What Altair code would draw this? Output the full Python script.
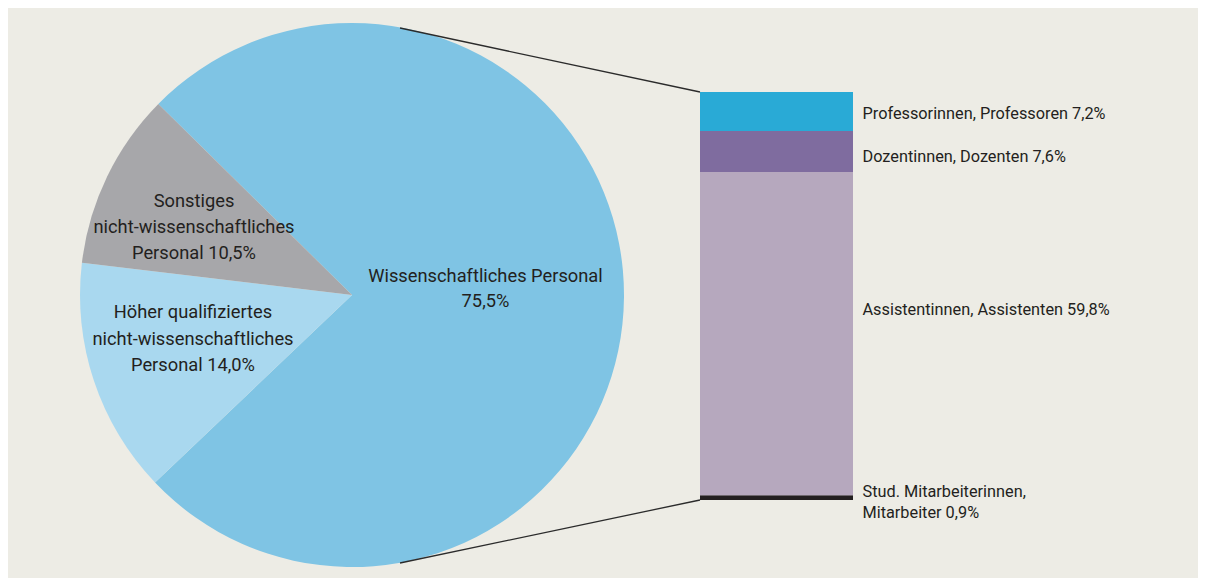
import altair as alt
import pandas as pd
import math

# --- data ---
pie_cats = ["Wissenschaftliches Personal",
            "Höher qualifiziertes nicht-wissenschaftliches Personal",
            "Sonstiges nicht-wissenschaftliches Personal"]
pie_vals = [75.5, 14.0, 10.5]
pie_labels = ["Wissenschaftliches Personal\n75,5%",
              "Höher qualifiziertes\nnicht-wissenschaftliches\nPersonal 14,0%",
              "Sonstiges\nnicht-wissenschaftliches\nPersonal 10,5%"]

bar_cats = ["Stud. Mitarbeiterinnen, Mitarbeiter",
            "Assistentinnen, Assistenten",
            "Dozentinnen, Dozenten",
            "Professorinnen, Professoren"]
bar_vals = [0.9, 59.8, 7.6, 7.2]
bar_labels = ["Stud. Mitarbeiterinnen,\nMitarbeiter 0,9%",
              "Assistentinnen, Assistenten 59,8%",
              "Dozentinnen, Dozenten 7,6%",
              "Professorinnen, Professoren 7,2%"]

colors = ["#7fc4e4", "#a9d8ef", "#a7a7aa", "#231f20", "#b6a8be", "#7f6c9f", "#29aad6"]

pie_df = pd.DataFrame({"cat": pie_cats, "value": pie_vals, "label": pie_labels,
                       "order": list(range(len(pie_cats)))})
bar_df = pd.DataFrame({"cat": bar_cats, "value": bar_vals, "label": bar_labels,
                       "order": list(range(len(bar_cats)))})

all_cats = pie_cats + bar_cats
color_scale = alt.Scale(domain=all_cats, range=colors)

FONT = "Roboto"
TXT = "#231f20"

start = -math.radians(45.4)
cx, cy, R = 344, 287, 272

pie = alt.Chart(pie_df).mark_arc(outerRadius=R, stroke=None).encode(
    theta=alt.Theta("value:Q", stack=True,
                    scale=alt.Scale(range=[start, start + 2 * math.pi])),
    color=alt.Color("cat:N", scale=color_scale, legend=None),
    order=alt.Order("order:Q"),
    x=alt.value(cx), y=alt.value(cy),
)

ytop, ybot = 84, 492
yscale = alt.Scale(domain=[0, sum(bar_vals)], range=[ybot, ytop])

bar = alt.Chart(bar_df).transform_stack(
    stack="value", groupby=[], as_=["y0", "y1"],
    sort=[alt.SortField("order", order="ascending")]
).mark_rect(stroke=None).encode(
    x=alt.value(692), x2=alt.value(845),
    y=alt.Y("y0:Q", scale=yscale, axis=None), y2="y1:Q",
    color=alt.Color("cat:N", scale=color_scale, legend=None),
)

rule_top = alt.Chart(pd.DataFrame({"v": [sum(bar_vals)]})).mark_rule(
    color="#2b2b2b", strokeWidth=1.3).encode(
    y=alt.Y("v:Q", scale=yscale, axis=None), x=alt.value(692),
    x2=alt.value(392), y2=alt.value(20))
rule_bot = alt.Chart(pd.DataFrame({"v": [0.0]})).mark_rule(
    color="#2b2b2b", strokeWidth=1.3).encode(
    y=alt.Y("v:Q", scale=yscale, axis=None), x=alt.value(692),
    x2=alt.value(392), y2=alt.value(555))


def ptext(df, cat, x, y, lh, align="center", size=18.3):
    return alt.Chart(df).transform_filter(alt.datum.cat == cat).mark_text(
        font=FONT, fontSize=size, color=TXT, align=align, baseline="alphabetic",
        lineBreak="\n", lineHeight=lh).encode(
        text="label:N", x=alt.value(x), y=alt.value(y))


labels = [
    ptext(pie_df, pie_cats[0], 477.5, 274.3, 24.4),
    ptext(pie_df, pie_cats[2], 186, 198.7, 26.3),
    ptext(pie_df, pie_cats[1], 185, 310, 26.5),
    ptext(bar_df, bar_cats[3], 854.5, 111.3, 21, "left", 16.3),
    ptext(bar_df, bar_cats[2], 854.5, 153.7, 21, "left", 16.3),
    ptext(bar_df, bar_cats[1], 854.5, 307, 21, "left", 16.3),
    ptext(bar_df, bar_cats[0], 854.5, 488.7, 21, "left", 16.3),
]

chart = alt.layer(pie, bar, rule_top, rule_bot, *labels).properties(
    width=1190, height=570, padding=0, background="#edece5",
    autosize=alt.AutoSizeParams(type="fit", contains="padding"),
).configure_view(stroke=None)

chart.save("out.html", embed_options={"renderer": "svg", "actions": False})
